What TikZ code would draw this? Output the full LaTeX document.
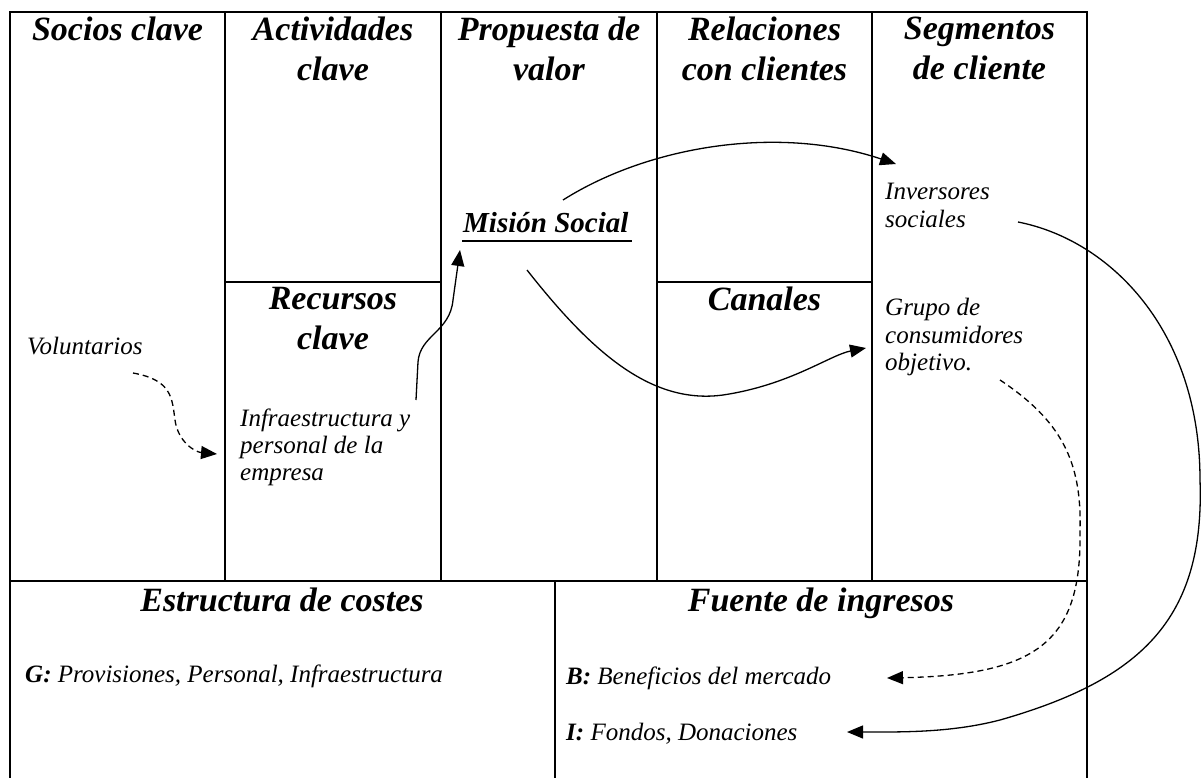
\documentclass[tikz,border=0pt]{standalone}
\usepackage{fontspec}
\setmainfont{Liberation Serif}
\usetikzlibrary{arrows.meta}
\begin{document}
\begin{tikzpicture}[x=1pt,y=-1pt,
  cellline/.style={line width=1.4pt},
  hdr/.style={font=\fontsize{34}{40}\selectfont\bfseries\itshape, align=center, inner sep=0pt, anchor=north},
  txt/.style={font=\fontsize{25}{28}\selectfont\itshape, inner sep=0pt, anchor=base west},
  mstext/.style={font=\fontsize{29}{34}\selectfont\bfseries\itshape, inner sep=0pt, anchor=base west},
  arr/.style={line width=1.3pt, -{Triangle[length=16pt,width=13pt]}},
  darr/.style={arr, dash pattern=on 6pt off 4pt}]
\useasboundingbox (0,0) rectangle (1202,778);
\fill[white] (0,0) rectangle (1202,778);
% grid
\draw[cellline] (10,778) -- (10,12) -- (1087,12) -- (1087,778);
\draw[cellline] (10,581) -- (1087,581);
\foreach \x in {225,441,657,872} \draw[cellline] (\x,12) -- (\x,581);
\draw[cellline] (225,282) -- (441,282);
\draw[cellline] (657,282) -- (872,282);
\draw[cellline] (555,581) -- (555,778);
% headers
\node[hdr] (socios) at (117.5,17) {Socios clave};
\node[hdr] (activ) at (333,17) {Actividades\\clave};
\node[hdr] (prop) at (549,17) {Propuesta de\\valor};
\node[hdr] (rel) at (764.5,17) {Relaciones\\con clientes};
\node[hdr] (seg) at (979.5,17) {Segmentos\\de cliente};
\node[hdr] (rec) at (333,287) {Recursos\\clave};
\node[hdr] (can) at (764.5,287) {Canales};
\node[hdr] (cost) at (282,588) {Estructura de costes};
\node[hdr] (fuente) at (821,588) {Fuente de ingresos};
% body texts
\node[txt] (vol) at (27,354) {Voluntarios};
\node[txt] (inf1) at (240,426) {Infraestructura y};
\node[txt] (inf2) at (240,453) {personal de la};
\node[txt] (inf3) at (240,480) {empresa};
\node[txt] (inv1) at (885,200) {Inversores};
\node[txt] (inv2) at (885,228) {sociales};
\node[txt] (gru1) at (885,315) {Grupo de};
\node[txt] (gru2) at (885,343) {consumidores};
\node[txt] (gru3) at (885,370) {objetivo.};
\node[txt] (gcost) at (25,682) {\textbf{G:} Provisiones, Personal, Infraestructura};
\node[txt] (bben) at (566,684) {\textbf{B:} Beneficios del mercado};
\node[txt] (ifon) at (566,740) {\textbf{I:} Fondos, Donaciones};
\node[mstext] (mision) at (463,233) {Misión Social};
\draw[line width=2.4pt] ([yshift=-8pt,xshift=-1pt]mision.base west) -- ([yshift=-8pt,xshift=3pt]mision.base east);
% arrow anchor coordinates
\coordinate (a1s) at (133,373);
\coordinate (a1e) at (217,454);
\coordinate (a2s) at (416,400);
\coordinate (a2e) at (460,250);
\coordinate (a3s) at (563,200);
\coordinate (a3e) at (896,164);
\coordinate (a4s) at (527,270);
\coordinate (a4e) at (866,348);
\coordinate (a5s) at (1018,222);
\coordinate (a5e) at (847,732);
\coordinate (a6s) at (1000,380);
\coordinate (a6e) at (887,678);
% arrows
\draw[darr] (a1s) .. controls (172,380) and (172,398) .. (175,420) .. controls (178,442) and (195,452) .. (a1e);
\draw[arr] (a2s) -- (418,362) .. controls (420,335) and (450,332) .. (453,300) -- (a2e);
\draw[arr] (a3s) .. controls (650,145) and (780,125) .. (a3e);
\draw[arr] (a4s) .. controls (590,350) and (650,405) .. (723,395) .. controls (790,385) and (830,355) .. (a4e);
\draw[arr] (a5s) .. controls (1110,240) and (1200,330) .. (1200,480) .. controls (1205,620) and (1140,680) .. (1000,720) .. controls (950,733) and (900,732) .. (a5e);
\draw[darr] (a6s) .. controls (1060,420) and (1082,460) .. (1080,530) .. controls (1082,640) and (1040,675) .. (a6e);
\end{tikzpicture}
\end{document}
